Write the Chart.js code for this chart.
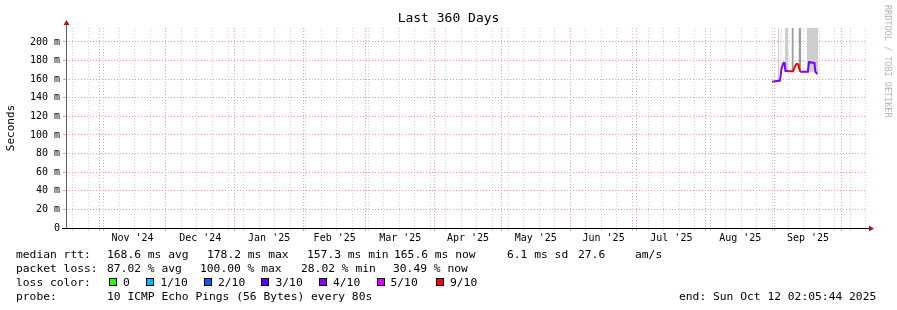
<!DOCTYPE html>
<html><head><meta charset="utf-8">
<script src="https://cdn.jsdelivr.net/npm/chart.js@4.4.1/dist/chart.umd.min.js"></script>
<style>
html,body{margin:0;padding:0;background:#fff;}
#wrap{position:relative;width:897px;height:310px;overflow:hidden;background:#fff;}
canvas{position:absolute;left:0;top:0;}
.t{position:absolute;font-family:'DejaVu Sans Mono',monospace;font-size:11.3px;line-height:14px;color:#000;white-space:pre;}
.sq{position:absolute;width:6px;height:6px;border:1px solid #000;}
#credit{position:absolute;left:883px;top:5px;writing-mode:vertical-rl;font-family:'DejaVu Sans Mono',monospace;font-size:8.5px;line-height:9px;color:#b4b4b4;white-space:pre;}
</style></head><body>
<div id="wrap"><canvas id="c" width="897" height="310"></canvas></div>
<script>
// ---------- data ----------
const END_TIME = Date.UTC(2025, 9, 12, 2, 5, 44);
const SPAN_DAYS = 360;

const sampleTimes = ["2025-08-30T19:00","2025-08-31T11:00","2025-09-03T09:00","2025-09-04T01:00","2025-09-04T22:00","2025-09-05T11:00","2025-09-05T19:00","2025-09-07T10:00","2025-09-09T07:00","2025-09-10T01:00","2025-09-10T20:00","2025-09-11T14:00","2025-09-12T03:00","2025-09-12T12:00","2025-09-15T23:00","2025-09-16T10:00","2025-09-18T21:00","2025-09-19T07:00","2025-09-20T05:00"];
const medianRtt = [157.3,157.5,158.5,171,177.5,177.5,169,168.5,168.5,173.5,176.5,176,171,168,168,178.2,177.5,168,165.6];
const lossLevel = [9,4,4,4,4,4,4,9,9,9,9,9,9,4,4,4,4,4,4];

const smokeStart = ["2025-09-02T10:00","2025-09-03T14:00","2025-09-05T14:00","2025-09-08T14:00","2025-09-11T17:00","2025-09-15T09:00"];
const smokeEnd   = ["2025-09-02T23:00","2025-09-04T02:00","2025-09-07T00:00","2025-09-09T14:00","2025-09-12T23:00","2025-09-20T15:00"];
const smokeLow   = [158.5,165,169,168.5,170,168];
const smokeHigh  = [215,215,215,215,215,215];
const smokeDensity = [1,1,1,2,2,1];

const monthStarts = ["2024-11-01","2024-12-01","2025-01-01","2025-02-01","2025-03-01","2025-04-01","2025-05-01","2025-06-01","2025-07-01","2025-08-01","2025-09-01","2025-10-01"];
const monthLabels = ["Nov '24","Dec '24","Jan '25","Feb '25","Mar '25","Apr '25","May '25","Jun '25","Jul '25","Aug '25","Sep '25"];
const yTickValues = [0,10,20,30,40,50,60,70,80,90,100,110,120,130,140,150,160,170,180,190,200,210];
const yMax = 215;

const lossKeys = ["0","1/10","2/10","3/10","4/10","5/10","9/10"];
const lossKeyLevels = [0,1,2,3,4,5,9];

// ---------- styles ----------
const LOSS_COLORS = {0:'#26ff00',1:'#00b8ff',2:'#0059ff',3:'#5e00ff',4:'#7e00ff',5:'#dd00ff',9:'#ff0000'};
const SMOKE_COLORS = {1:'#cdcdcd',2:'#9e9e9e'};
const RED = '#f09a9a', GRAY = '#d0d0d0', NONE = 'rgba(0,0,0,0)';
const MONO = "'DejaVu Sans Mono', monospace";

const DAY = 864e5;
const startMs = END_TIME - SPAN_DAYS * DAY;
const dayOf = ms => (ms - startMs) / DAY;
const tOf = s => Date.parse(s.length > 10 ? s + ':00Z' : s + 'T00:00:00Z');

// x ticks: weekly (Sunday) minor lines, month major lines, mid-month labels
const xTicks = [];
for (let w = Date.UTC(2024, 9, 20); w <= END_TIME; w += 7 * DAY) xTicks.push({value: dayOf(w), kind: 'week'});
monthStarts.forEach(s => xTicks.push({value: dayOf(tOf(s)), kind: 'month'}));
monthLabels.forEach((lab, i) => xTicks.push({value: (dayOf(tOf(monthStarts[i])) + dayOf(tOf(monthStarts[i + 1]))) / 2, kind: 'label', text: lab}));
xTicks.sort((a, b) => a.value - b.value);

const datasets = [];
smokeStart.forEach((s, i) => {
  datasets.push({
    type: 'line', xAxisID: 'x', yAxisID: 'y', order: 2,
    data: [{x: dayOf(tOf(s)), y: smokeHigh[i]}, {x: dayOf(tOf(smokeEnd[i])), y: smokeHigh[i]}],
    fill: {value: smokeLow[i]}, backgroundColor: SMOKE_COLORS[smokeDensity[i]],
    borderColor: NONE, borderWidth: 0, pointRadius: 0
  });
});
datasets.push({
  type: 'line', xAxisID: 'x', yAxisID: 'y', order: 0,
  data: sampleTimes.map((t, i) => ({x: dayOf(tOf(t)), y: medianRtt[i]})),
  borderWidth: 2, pointRadius: 0, tension: 0, fill: false,
  borderColor: LOSS_COLORS[4],
  segment: {borderColor: ctx => LOSS_COLORS[lossLevel[ctx.p0DataIndex]]}
});

const axesPlugin = {
  id: 'rrdAxes',
  afterDraw(chart) {
    const ctx = chart.ctx, a = chart.chartArea;
    ctx.save();
    ctx.lineWidth = 1;
    ctx.strokeStyle = '#606060';
    ctx.beginPath(); ctx.moveTo(a.left + 0.5, a.bottom); ctx.lineTo(a.left + 0.5, a.top - 4); ctx.stroke();
    ctx.strokeStyle = '#000';
    ctx.beginPath(); ctx.moveTo(a.left - 4, a.bottom + 0.5); ctx.lineTo(a.right + 4, a.bottom + 0.5); ctx.stroke();
    ctx.fillStyle = '#9a1c1c';
    ctx.beginPath(); ctx.moveTo(a.left - 2.5, a.top - 3); ctx.lineTo(a.left + 3.5, a.top - 3); ctx.lineTo(a.left + 0.5, a.top - 8); ctx.closePath(); ctx.fill();
    ctx.beginPath(); ctx.moveTo(a.right + 3, a.bottom - 2.5); ctx.lineTo(a.right + 3, a.bottom + 3.5); ctx.lineTo(a.right + 8, a.bottom + 0.5); ctx.closePath(); ctx.fill();
    ctx.restore();
  }
};

const xGridColor = c => (c.tick && c.tick.kind === 'month') ? RED : (c.tick && c.tick.kind === 'week') ? GRAY : NONE;
const yGridColor = c => (!c.tick || c.tick.value === 0) ? NONE : (c.tick.value % 20 === 0 ? RED : GRAY);

new Chart(document.getElementById('c'), {
  type: 'line',
  data: {datasets},
  options: {
    responsive: false, animation: false, events: [],
    layout: {padding: 0},
    plugins: {
      legend: {display: false}, tooltip: {enabled: false},
      title: {display: true, text: 'Last 360 Days', color: '#000',
        font: {family: MONO, size: 13, weight: 'normal', lineHeight: 1.2},
        padding: {top: 10.4, bottom: 2}}
    },
    scales: {
      x: {
        type: 'linear', min: 0, max: SPAN_DAYS,
        afterBuildTicks: s => { s.ticks = xTicks.map(t => Object.assign({}, t)); },
        afterFit: s => { s.height = 82; },
        ticks: {autoSkip: false, maxRotation: 0, minRotation: 0, padding: 1, color: '#000',
          font: {family: MONO, size: 10},
          callback: (v, i, ticks) => (ticks[i] && ticks[i].text) ? ticks[i].text : ''},
        grid: {color: xGridColor, tickColor: xGridColor, lineWidth: 1, drawTicks: true, tickLength: 3},
        border: {display: false, dash: [1, 2]}
      },
      y: {
        type: 'linear', min: 0, max: yMax,
        afterBuildTicks: s => { s.ticks = yTickValues.map(v => ({value: v})); },
        afterFit: s => { s.width = 66; },
        ticks: {color: '#000', padding: 3, font: {family: MONO, size: 10},
          callback: v => v % 20 === 0 ? (v === 0 ? '0' : v + ' m') : ''},
        grid: {color: yGridColor, tickColor: yGridColor, lineWidth: 1, drawTicks: true, tickLength: 3},
        border: {display: false, dash: [1, 2]},
        title: {display: true, text: 'Seconds', color: '#000', font: {family: MONO, size: 11}, padding: {top: 4.4, bottom: 0}}
      },
      y2: {
        type: 'linear', position: 'right', display: true,
        afterFit: s => { s.width = 31; },
        grid: {display: false}, ticks: {display: false}, border: {display: false}
      }
    }
  },
  plugins: [axesPlugin]
});

// ---------- text legend (RRDtool comments) ----------
const wrap = document.getElementById('wrap');
function addText(x, y, s) { const d = document.createElement('div'); d.className = 't'; d.style.left = x + 'px'; d.style.top = y + 'px'; d.textContent = s; wrap.appendChild(d); }
const legendLines = [
  {y: 247.5, parts: [[16,'median rtt:'],[107,'168.6 ms avg'],[207,'178.2 ms max'],[307,'157.3 ms min'],[394,'165.6 ms now'],[507,'6.1 ms sd'],[578,'27.6'],[635,'am/s']]},
  {y: 261.5, parts: [[16,'packet loss:'],[107,'87.02 % avg'],[200,'100.00 % max'],[301,'28.02 % min'],[393,'30.49 % now']]},
  {y: 275.5, parts: [[16,'loss color:']]},
  {y: 289.5, parts: [[16,'probe:'],[107,'10 ICMP Echo Pings (56 Bytes) every 80s'],[679,'end: Sun Oct 12 02:05:44 2025']]}
];
legendLines.forEach(l => l.parts.forEach(p => addText(p[0], l.y, p[1])));
const sqX = [108.5, 146, 203.5, 261, 318.5, 376.5, 435.5];
const keyTextX = [123, 160.5, 218, 275.5, 333, 390.5, 450];
lossKeys.forEach((k, i) => {
  const s = document.createElement('div'); s.className = 'sq';
  s.style.left = sqX[i] + 'px'; s.style.top = '278px'; s.style.background = LOSS_COLORS[lossKeyLevels[i]];
  wrap.appendChild(s);
  addText(keyTextX[i], 275.5, k);
});
const cr = document.createElement('div'); cr.id = 'credit'; cr.textContent = 'RRDTOOL / TOBI OETIKER'; wrap.appendChild(cr);
</script>
</body></html>
